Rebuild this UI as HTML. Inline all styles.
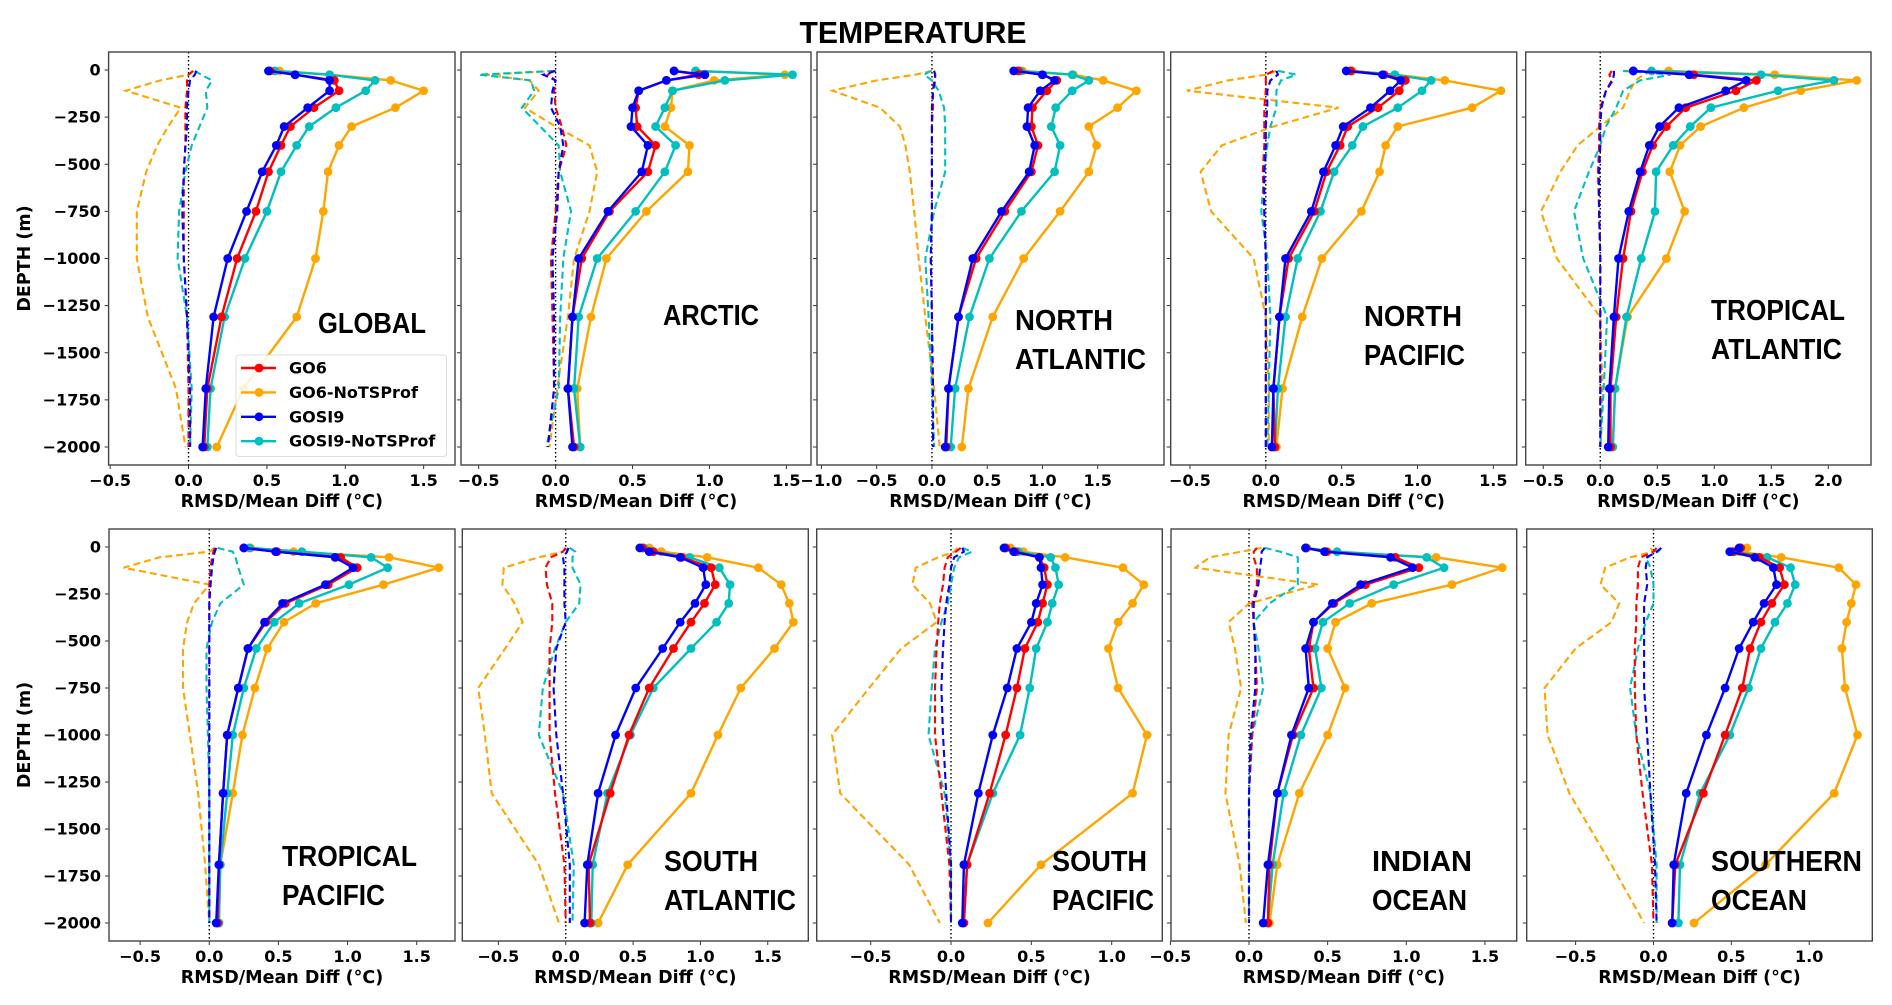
<!DOCTYPE html>
<html><head><meta charset="utf-8"><title>Temperature profiles</title>
<style>
html,body{margin:0;padding:0;background:#fff;}
svg{display:block;}
.tick{font-family:"DejaVu Sans","Liberation Sans",sans-serif;font-weight:bold;font-size:16px;fill:#000;}
.xl{font-family:"DejaVu Sans","Liberation Sans",sans-serif;font-weight:bold;font-size:17.5px;fill:#000;}
.reg{font-family:"Liberation Sans",sans-serif;font-weight:bold;font-size:29px;fill:#000;}
</style></head>
<body>
<svg id="fig" width="1892" height="1005" viewBox="0 0 1892 1005" xmlns="http://www.w3.org/2000/svg">
<text x="913" y="43" text-anchor="middle" font-family="Liberation Sans, sans-serif" font-weight="bold" font-size="31" textLength="227" lengthAdjust="spacingAndGlyphs">TEMPERATURE</text>
</svg>
<script>
// ---- data ----
const depths = [5,25,55,110,200,300,400,540,750,1000,1310,1690,2000];
const regionNames = ["GLOBAL","ARCTIC","NORTH ATLANTIC","NORTH PACIFIC","TROPICAL ATLANTIC","TROPICAL PACIFIC","SOUTH ATLANTIC","SOUTH PACIFIC","INDIAN OCEAN","SOUTHERN OCEAN"];
const yTicks = [0,-250,-500,-750,-1000,-1250,-1500,-1750,-2000];
const xTickSets = [
 [-0.5,0,0.5,1,1.5],[-0.5,0,0.5,1,1.5],[-1,-0.5,0,0.5,1,1.5],[-0.5,0,0.5,1,1.5],[-0.5,0,0.5,1,1.5,2],
 [-0.5,0,0.5,1,1.5],[-0.5,0,0.5,1,1.5],[-0.5,0,0.5,1],[-0.5,0,0.5,1,1.5],[-0.5,0,0.5,1]];
const xLimits = [[-0.51,1.70],[-0.615,1.66],[-1.04,2.10],[-0.627,1.654],[-0.654,2.375],[-0.725,1.777],[-0.768,1.801],[-0.836,1.315],[-0.496,1.702],[-0.814,1.405]];
const seriesNames = ["GO6","GO6-NoTSProf","GOSI9","GOSI9-NoTSProf"];
const go6Rmsd = [
 [0.52,0.68,0.93,0.96,0.80,0.65,0.59,0.51,0.43,0.31,0.21,0.12,0.10],
 [0.77,0.93,0.72,0.54,0.52,0.53,0.65,0.60,0.35,0.17,0.11,0.08,0.12],
 [0.78,1.00,1.13,1.04,0.91,0.90,0.96,0.90,0.66,0.40,0.24,0.15,0.13],
 [0.56,0.78,0.92,0.88,0.74,0.54,0.49,0.40,0.32,0.15,0.09,0.05,0.06],
 [0.29,0.82,1.37,1.19,0.75,0.58,0.46,0.37,0.27,0.20,0.14,0.09,0.09],
 [0.25,0.49,0.95,1.07,0.86,0.55,0.41,0.28,0.21,0.13,0.10,0.07,0.06],
 [0.57,0.65,0.86,1.08,1.11,1.03,0.93,0.80,0.62,0.47,0.33,0.17,0.18],
 [0.34,0.40,0.55,0.58,0.60,0.57,0.54,0.46,0.41,0.34,0.24,0.10,0.08],
 [0.36,0.49,0.93,1.08,0.74,0.54,0.41,0.38,0.41,0.28,0.18,0.13,0.12],
 [0.56,0.51,0.68,0.81,0.84,0.76,0.69,0.62,0.57,0.46,0.32,0.14,0.12]];
const go6NoTSRmsd = [
 [0.58,0.90,1.29,1.50,1.32,1.04,0.96,0.89,0.86,0.81,0.69,0.35,0.18],
 [0.91,1.49,1.03,0.76,0.75,0.71,0.87,0.86,0.59,0.33,0.23,0.14,0.16],
 [0.82,1.28,1.55,1.85,1.68,1.42,1.49,1.42,1.16,0.83,0.55,0.33,0.27],
 [0.57,0.85,1.18,1.55,1.36,0.87,0.79,0.75,0.63,0.37,0.24,0.11,0.07],
 [0.60,1.53,2.25,1.76,1.26,0.88,0.70,0.61,0.74,0.58,0.24,0.13,0.11],
 [0.30,0.61,1.30,1.66,1.26,0.77,0.54,0.42,0.33,0.24,0.17,0.08,0.07],
 [0.62,0.71,1.05,1.43,1.60,1.66,1.69,1.55,1.30,1.13,0.93,0.46,0.24],
 [0.37,0.45,0.71,1.07,1.20,1.13,1.04,0.98,1.04,1.22,1.13,0.56,0.23],
 [0.37,0.50,1.19,1.61,1.29,0.78,0.55,0.50,0.61,0.50,0.32,0.18,0.13],
 [0.60,0.55,0.82,1.19,1.30,1.27,1.24,1.21,1.23,1.31,1.16,0.72,0.26]];
const gosi9Rmsd = [
 [0.51,0.68,0.90,0.90,0.76,0.61,0.56,0.47,0.37,0.25,0.16,0.11,0.09],
 [0.77,0.97,0.72,0.54,0.50,0.49,0.60,0.56,0.34,0.15,0.11,0.08,0.11],
 [0.74,1.00,1.11,0.98,0.87,0.86,0.93,0.88,0.63,0.37,0.24,0.15,0.12],
 [0.53,0.77,0.89,0.82,0.69,0.51,0.46,0.38,0.30,0.13,0.09,0.05,0.04],
 [0.29,0.78,1.28,1.10,0.69,0.52,0.43,0.35,0.25,0.16,0.12,0.08,0.07],
 [0.25,0.48,0.91,1.04,0.84,0.53,0.40,0.28,0.21,0.13,0.10,0.07,0.05],
 [0.55,0.62,0.85,1.02,1.04,0.96,0.85,0.72,0.52,0.37,0.24,0.16,0.14],
 [0.33,0.39,0.55,0.56,0.57,0.53,0.50,0.41,0.35,0.26,0.17,0.08,0.07],
 [0.36,0.48,0.90,1.04,0.71,0.53,0.41,0.36,0.38,0.27,0.18,0.12,0.09],
 [0.55,0.49,0.65,0.77,0.79,0.71,0.64,0.55,0.46,0.34,0.21,0.13,0.12]];
const gosi9NoTSRmsd = [
 [0.55,0.90,1.19,1.13,0.94,0.77,0.69,0.59,0.50,0.36,0.23,0.14,0.12],
 [0.91,1.54,1.10,0.76,0.71,0.65,0.78,0.71,0.52,0.27,0.15,0.12,0.16],
 [0.80,1.27,1.42,1.27,1.12,1.08,1.16,1.11,0.81,0.52,0.34,0.21,0.17],
 [0.56,0.85,1.09,1.03,0.87,0.64,0.57,0.45,0.36,0.21,0.13,0.08,0.06],
 [0.45,1.41,2.05,1.56,0.97,0.79,0.64,0.49,0.48,0.36,0.23,0.13,0.11],
 [0.29,0.67,1.17,1.29,1.01,0.65,0.47,0.34,0.25,0.17,0.13,0.08,0.07],
 [0.58,0.65,0.92,1.14,1.22,1.21,1.12,0.93,0.65,0.48,0.31,0.20,0.19],
 [0.34,0.42,0.62,0.65,0.67,0.63,0.60,0.53,0.49,0.43,0.26,0.10,0.08],
 [0.36,0.56,1.13,1.24,0.92,0.64,0.47,0.42,0.46,0.33,0.22,0.15,0.12],
 [0.56,0.52,0.73,0.88,0.91,0.86,0.78,0.69,0.61,0.49,0.30,0.17,0.16]];
const go6Mean = [
 [0.03,0.0,-0.01,-0.01,-0.02,-0.02,-0.02,-0.03,-0.03,-0.03,-0.01,0.0,0.0],
 [-0.02,-0.05,0.0,-0.01,0.0,0.04,0.07,0.02,0.0,-0.03,-0.02,-0.01,-0.05],
 [0.02,0.03,0.02,0.01,0.01,0.0,0.0,0.0,0.0,-0.01,0.0,0.01,0.01],
 [0.05,0.0,0.0,0.0,-0.01,-0.01,-0.01,-0.02,-0.01,0.0,0.0,0.0,0.0],
 [0.10,0.08,0.10,0.05,0.0,-0.01,-0.01,-0.02,-0.01,0.0,0.0,0.0,0.0],
 [0.04,0.03,0.02,0.01,0.0,0.0,0.0,0.0,0.0,0.0,0.0,0.0,0.0],
 [0.0,-0.02,-0.11,-0.15,-0.14,-0.10,-0.10,-0.12,-0.12,-0.12,-0.08,-0.01,0.0],
 [0.06,0.03,-0.02,-0.04,-0.05,-0.07,-0.08,-0.09,-0.10,-0.10,-0.06,-0.01,0.0],
 [0.05,0.03,0.03,0.05,0.05,0.02,0.03,0.04,0.05,0.02,0.0,0.0,0.0],
 [0.02,0.0,-0.08,-0.10,-0.10,-0.11,-0.11,-0.12,-0.12,-0.11,-0.07,-0.01,0.0]];
const go6NoTSMean = [
 [0.03,0.0,-0.18,-0.40,-0.05,-0.13,-0.20,-0.27,-0.33,-0.33,-0.26,-0.08,-0.02],
 [0.0,-0.45,-0.17,-0.11,-0.20,0.0,0.22,0.27,0.22,0.12,0.08,0.01,-0.04],
 [0.0,-0.15,-0.50,-0.90,-0.47,-0.29,-0.24,-0.20,-0.16,-0.12,-0.06,0.02,0.07],
 [0.07,0.0,-0.25,-0.52,0.48,0.05,-0.29,-0.43,-0.36,-0.08,0.0,0.02,0.02],
 [0.45,0.38,0.31,0.26,0.20,0.0,-0.20,-0.35,-0.52,-0.38,0.0,0.02,0.0],
 [0.04,0.0,-0.36,-0.62,0.0,-0.11,-0.16,-0.19,-0.19,-0.14,-0.08,-0.03,0.0],
 [0.0,-0.02,-0.20,-0.46,-0.47,-0.38,-0.32,-0.45,-0.65,-0.60,-0.55,-0.20,-0.05],
 [0.04,0.02,-0.08,-0.22,-0.24,-0.13,-0.09,-0.31,-0.51,-0.74,-0.69,-0.26,-0.07],
 [0.08,-0.05,-0.25,-0.34,0.44,0.0,-0.13,-0.09,-0.05,-0.13,-0.15,-0.06,-0.02],
 [-0.02,0.0,-0.15,-0.31,-0.34,-0.22,-0.27,-0.50,-0.70,-0.68,-0.54,-0.27,-0.06]];
const gosi9Mean = [
 [0.05,0.04,0.01,0.0,-0.01,-0.01,-0.02,-0.03,-0.04,-0.03,-0.01,0.01,0.01],
 [0.0,-0.08,0.0,-0.02,-0.03,0.03,0.05,0.02,0.01,-0.02,-0.01,-0.01,-0.05],
 [0.02,0.03,0.03,0.01,0.0,0.0,0.0,0.0,0.0,-0.01,0.0,0.01,0.01],
 [0.07,0.08,0.03,0.01,0.01,0.0,0.0,-0.01,-0.01,0.0,0.0,0.0,0.0],
 [0.12,0.12,0.11,0.05,0.01,0.0,0.0,-0.01,-0.01,0.0,0.0,0.0,0.0],
 [0.05,0.04,0.03,0.02,0.01,0.0,0.0,0.0,0.0,0.0,0.0,0.0,0.0],
 [0.02,0.01,-0.02,-0.01,-0.01,-0.01,0.0,-0.07,-0.09,-0.07,-0.02,0.03,0.03],
 [0.07,0.08,0.02,0.0,-0.01,-0.03,-0.04,-0.05,-0.06,-0.05,-0.03,0.0,0.0],
 [0.10,0.08,0.08,0.07,0.06,0.03,0.03,0.04,0.04,0.01,0.0,0.0,0.0],
 [0.05,0.02,-0.04,-0.05,-0.04,-0.06,-0.06,-0.06,-0.06,-0.04,-0.02,0.01,0.02]];
const gosi9NoTSMean = [
 [0.04,0.08,0.15,0.11,0.12,0.07,0.02,-0.02,-0.06,-0.07,-0.01,0.02,0.01],
 [-0.01,-0.50,-0.16,-0.14,-0.22,-0.10,0.02,0.03,0.10,0.05,0.03,0.02,-0.06],
 [-0.01,-0.07,0.0,0.06,0.11,0.12,0.12,0.12,0.02,-0.06,-0.03,0.0,0.02],
 [0.08,0.20,0.10,0.07,0.07,0.03,0.01,-0.01,-0.03,0.01,0.03,0.02,0.01],
 [0.20,0.62,0.35,0.20,0.14,0.05,0.0,-0.10,-0.23,-0.15,0.06,0.03,0.0],
 [0.06,0.17,0.19,0.21,0.25,0.08,0.02,-0.02,-0.02,-0.01,0.0,0.0,0.0],
 [0.03,0.07,0.05,0.05,0.11,0.10,0.0,-0.08,-0.17,-0.20,-0.02,0.06,0.05],
 [0.07,0.13,0.05,0.02,0.0,-0.02,-0.06,-0.10,-0.12,-0.14,-0.04,0.0,0.0],
 [0.10,0.20,0.31,0.31,0.31,0.13,0.03,0.06,0.09,0.02,0.0,0.0,0.0],
 [0.05,0.03,-0.05,-0.02,0.0,0.0,-0.05,-0.10,-0.15,-0.11,-0.02,0.02,0.02]];

// ---- layout (pixels, not data) ----
const colLeftsTop = [108.6,461,817,1170.7,1525.7];
const colRightsTop = [455,811,1164,1516.7,1871];
const colLeftsBot = [109,462.3,816.7,1171,1526.7];
const colRightsBot = [455,808.3,1162.3,1516.7,1872.3];
const rowBox = [[52,465],[529,941]];
const labelPos = [
 [318,323],[663,315],[1015,320],[1364,316],[1711,310],
 [282,856],[664,861],[1052,861],[1372,861],[1711,861]];
const labelWidths = [[108],[96],[98,131],[98,101],[134,131],[135,103],[94,132],[95,102],[100,95],[151,96]];
const colors = ["#ff0000","#ffa500","#0000ff","#00bfbf"];
const NS = "http://www.w3.org/2000/svg";
const svg = document.getElementById("fig");
function mk(tag, attrs, parent){
  const el = document.createElementNS(NS, tag);
  for (const k in attrs) el.setAttribute(k, attrs[k]);
  (parent||svg).appendChild(el);
  return el;
}
function fmt(v){ const s = Math.abs(v).toFixed(1); return (v<0?"\u2212":"")+s; }

for (let p=0;p<10;p++){
  const row = p<5?0:1, col = p%5;
  const left = row?colLeftsBot[col]:colLeftsTop[col];
  const right = row?colRightsBot[col]:colRightsTop[col];
  const top = rowBox[row][0], bottom = rowBox[row][1];
  const y0 = top+18, y1 = bottom-18;
  const [xmin,xmax] = xLimits[p];
  const xs = v => left + (v-xmin)/(xmax-xmin)*(right-left);
  const ys = d => y0 + (d/2000)*(y1-y0);
  const g = mk("g",{});
  
  
  yTicks.forEach(t=>{
    const yy = ys(-t);
    mk("line",{x1:left-4,x2:left,y1:yy,y2:yy,stroke:"#333","stroke-width":1},g);
    if (col===0){
      const tx = mk("text",{x:left-8,y:yy+5.5,"text-anchor":"end",class:"tick"},g);
      tx.textContent = t===0?"0":"\u2212"+Math.abs(t);
      
      
    }
  });
  xTickSets[p].forEach(t=>{
    const xx = xs(t);
    mk("line",{x1:xx,x2:xx,y1:bottom,y2:bottom+4,stroke:"#333","stroke-width":1},g);
    const tx = mk("text",{x:xx,y:bottom+21,"text-anchor":"middle",class:"tick"},g);
    tx.textContent = fmt(t);
    
    
  });
  const xl = mk("text",{x:(left+right)/2,y:bottom+42,"text-anchor":"middle",class:"xl"},g);
  xl.textContent = "RMSD/Mean Diff (\u00b0C)";
  
  
  if (col===0){
    const cy=(top+bottom)/2;
    const yl = mk("text",{x:0,y:0,"text-anchor":"middle",class:"xl",transform:"translate(30,"+cy+") rotate(-90)"},g);
    yl.textContent = "DEPTH (m)";
    
    
  }
  const zl = mk("line",{x1:xs(0),x2:xs(0),y1:top,y2:bottom,stroke:"#000","stroke-width":1.4,"stroke-dasharray":"1.5,2.5"},g);
  
  
  const rmsd = [go6Rmsd[p],go6NoTSRmsd[p],gosi9Rmsd[p],gosi9NoTSRmsd[p]];
  const mean = [go6Mean[p],go6NoTSMean[p],gosi9Mean[p],gosi9NoTSMean[p]];
  [1,3,0,2].forEach(s=>{
    const pts = mean[s].map((v,i)=>xs(v).toFixed(1)+","+ys(depths[i]).toFixed(1)).join(" ");
    const pl = mk("polyline",{points:pts,fill:"none",stroke:colors[s],"stroke-width":2.1,"stroke-dasharray":"7,4"},g);
    
    
  });
  [1,3,0,2].forEach(s=>{
    const pts = rmsd[s].map((v,i)=>xs(v).toFixed(1)+","+ys(depths[i]).toFixed(1)).join(" ");
    const pl = mk("polyline",{points:pts,fill:"none",stroke:colors[s],"stroke-width":2.4},g);
    
    
    rmsd[s].forEach((v,i)=>{
      const c = mk("circle",{cx:xs(v),cy:ys(depths[i]),r:4.4,fill:colors[s]},g);
      
      
    });
  });
  const fr = mk("rect",{x:left,y:top,width:right-left,height:bottom-top,fill:"none",stroke:"#444","stroke-width":1.4},g);
  
  
  const words = regionNames[p]==="GLOBAL"||regionNames[p]==="ARCTIC" ? [regionNames[p]] : regionNames[p].split(" ");
  words.forEach((w,i)=>{
    const t = mk("text",{x:labelPos[p][0],y:labelPos[p][1]+10+i*39,class:"reg",textLength:labelWidths[p][i],lengthAdjust:"spacingAndGlyphs"},g);
    t.textContent = w;
    
    
  });
  if (p===0){
    const lg = mk("g",{},g);
    
    
    mk("rect",{x:236,y:355,width:210.5,height:101.5,rx:3,fill:"rgba(255,255,255,0.85)",stroke:"#ddd","stroke-width":1},lg);
    seriesNames.forEach((n,i)=>{
      const yy = 368+i*24.4;
      mk("line",{x1:241,x2:276,y1:yy,y2:yy,stroke:colors[i],"stroke-width":2.4},lg);
      mk("circle",{cx:259,cy:yy,r:4.4,fill:colors[i]},lg);
      const t = mk("text",{x:289,y:yy+5.5,class:"tick"},lg);
      t.textContent = n;
      
      
    });
  }
}
</script>
</body></html>
